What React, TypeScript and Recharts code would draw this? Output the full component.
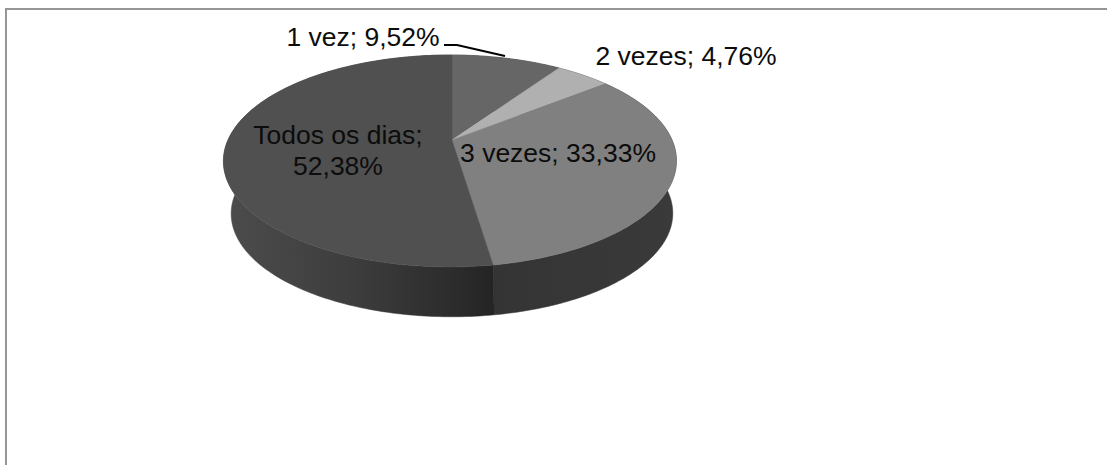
import { Pie, PieChart } from "recharts"

const categories = ["1 vez", "2 vezes", "3 vezes", "Todos os dias"]
const percents = [9.52, 4.76, 33.33, 52.38]
const faceColors = ["#666666", "#b0b0b0", "#808080", "#505050"]

const rows = categories.map((name, i) => ({ name, value: percents[i] }))

const WIDTH = 1107
const HEIGHT = 465
const CX = 452
const CY = 140
const RADIUS = 222
const FONT = "'Liberation Sans', Arial, sans-serif"

// tilt of the disc: squash and perspective used to project it on screen
const SQUASH = 0.4586
const PERSPECTIVE = 0.198
const SIDE_LEAN = 0.009
// lower rim of the disc
const DEPTH = 53
const LOWER_SHIFT = 2
const LOWER_SCALE = 0.975

const RAD = Math.PI / 180

function project(cx: number, cy: number, r: number, angle: number) {
    const X = Math.cos(angle * RAD)
    const Y = Math.sin(angle * RAD)
    const d = 1 + PERSPECTIVE * Y + SIDE_LEAN * X
    return [cx + (r * X) / d, cy - (r * SQUASH * Y) / d]
}

function rim(cx: number, cy: number, r: number, start: number, end: number) {
    const steps = Math.max(2, Math.ceil(Math.abs(end - start)))
    const pts: number[][] = []
    for (let i = 0; i <= steps; i++) {
        pts.push(project(cx, cy, r, start + ((end - start) * i) / steps))
    }
    return pts
}

const toPath = (pts: number[][]) =>
    "M" + pts.map((p) => `${p[0].toFixed(2)},${p[1].toFixed(2)}`).join("L") + "Z"

function FaceSlice(props: any) {
    const { cx, cy, outerRadius, startAngle, endAngle, fill } = props
    const pts = [[cx, cy], ...rim(cx, cy, outerRadius, startAngle, endAngle)]
    return <path d={toPath(pts)} fill={fill} stroke={fill} strokeWidth={0.5} />
}

function WallSlice(props: any) {
    const { cx, cy, outerRadius, startAngle, endAngle, fill } = props
    const upper = rim(cx, cy, outerRadius, startAngle, endAngle)
    const lower = rim(cx + LOWER_SHIFT, cy + DEPTH, outerRadius * LOWER_SCALE, startAngle, endAngle).reverse()
    return <path d={toPath([...upper, ...lower])} fill={fill} stroke={fill} strokeWidth={0.5} />
}

// where each slice's caption sits, in category order
const captionLines = [
    { x: 363, y: [46] },
    { x: 686, y: [65] },
    { x: 558, y: [162] },
    { x: 338, y: [144, 175] },
]

function sliceLabel(props: any) {
    const { index, name, value } = props
    const pct = value.toFixed(2).replace(".", ",") + "%"
    const spot = captionLines[index]
    const lines = spot.y.length > 1 ? [`${name};`, pct] : [`${name}; ${pct}`]
    return (
        <g key={name}>
            {lines.map((line, i) => (
                <text
                    key={i}
                    x={spot.x}
                    y={spot.y[i]}
                    textAnchor="middle"
                    fontFamily={FONT}
                    fontSize={26.5}
                    fill="#0c0c0c"
                >
                    {line}
                </text>
            ))}
            {index === 0 && (
                <polyline
                    points="444,45 457,45 505,56"
                    fill="none"
                    stroke="#000000"
                    strokeWidth={2}
                />
            )}
        </g>
    )
}

const pieProps = {
    data: rows,
    dataKey: "value",
    nameKey: "name",
    cx: CX,
    cy: CY,
    outerRadius: RADIUS,
    startAngle: 90,
    endAngle: -270,
    paddingAngle: 0,
    stroke: "none",
    isAnimationActive: false,
}

const wallFills = ["url(#wallRight)", "url(#wallRight)", "url(#wallRight)", "url(#wallLeft)"]

export default function App() {
    return (
        <div
            style={{
                position: "absolute",
                left: 0,
                top: 0,
                width: WIDTH,
                height: HEIGHT,
                background: "#ffffff",
                overflow: "hidden",
            }}
        >
            <div style={{ position: "absolute", left: 5, top: 8, right: 0, height: 2, background: "#969696" }} />
            <div style={{ position: "absolute", left: 5, top: 8, bottom: 0, width: 2, background: "#969696" }} />
            <div style={{ position: "absolute", left: 0, top: 0 }}>
                <PieChart width={WIDTH} height={HEIGHT} margin={{ top: 0, right: 0, bottom: 0, left: 0 }}>
                    <defs>
                        <linearGradient id="wallLeft" x1="0" y1="0" x2="1" y2="0">
                            <stop offset="0" stopColor="#4c4c4c" />
                            <stop offset="0.45" stopColor="#3e3e3e" />
                            <stop offset="0.85" stopColor="#2c2c2c" />
                            <stop offset="1" stopColor="#242424" />
                        </linearGradient>
                        <linearGradient id="wallRight" x1="0" y1="0" x2="1" y2="0">
                            <stop offset="0" stopColor="#343434" />
                            <stop offset="1" stopColor="#3a3a3a" />
                        </linearGradient>
                    </defs>
                    <Pie
                        {...pieProps}
                        shape={(p: any) => <WallSlice {...p} fill={wallFills[p.index]} />}
                        label={false}
                        labelLine={false}
                    />
                    <Pie
                        {...pieProps}
                        shape={(p: any) => <FaceSlice {...p} fill={faceColors[p.index]} />}
                        label={sliceLabel}
                        labelLine={false}
                    />
                </PieChart>
            </div>
        </div>
    )
}
